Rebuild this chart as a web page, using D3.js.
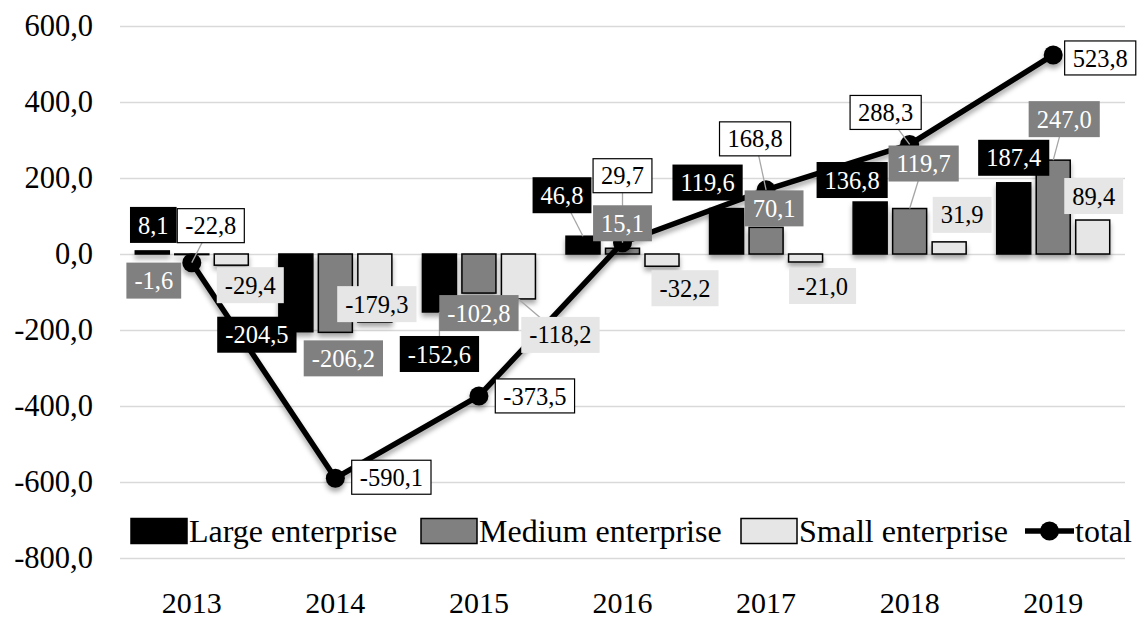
<!DOCTYPE html>
<html>
<head>
<meta charset="utf-8">
<script src="https://cdn.jsdelivr.net/npm/d3@7"></script>
<style>
  html, body { margin: 0; padding: 0; background: #fff; }
  svg { display: block; font-family: "Liberation Serif", "Times New Roman", serif; }
</style>
</head>
<body>
<svg id="chart"></svg>
<script>
const years = ['2013', '2014', '2015', '2016', '2017', '2018', '2019'];
const large = [8.1, -204.5, -152.6, 46.8, 119.6, 136.8, 187.4];
const medium = [-1.6, -206.2, -102.8, 15.1, 70.1, 119.7, 247.0];
const small = [-29.4, -179.3, -118.2, -32.2, -21.0, 31.9, 89.4];
const total = [-22.8, -590.1, -373.5, 29.7, 168.8, 288.3, 523.8];
const yTicks = [-800, -600, -400, -200, 0, 200, 400, 600];
const seriesNames = ['Large enterprise', 'Medium enterprise', 'Small enterprise', 'total'];

// hand-placed label offsets [dx, dy, leader] from each mark's anchor, like the original
const largeLabelPos = [[1, -26, 0], [-39, 3, 0], [0, 42, 1], [-21, -41, 1], [-19, -26, 0], [-18, -22, 0], [0, -25, 0]];
const mediumLabelPos = [[-38, 26, 0], [8, 26, 0], [0, 20, 0], [0, -25, 0], [8, -19, 0], [14, -45, 1], [11, -41, 1]];
const smallLabelPos = [[19, 20, 0], [2, -18, 0], [42, 36, 1], [23, 22, 0], [17, 24, 0], [13, -27, 0], [1, -24, 0]];
const totalLabelPos = [[19, -37, 1], [56, -1, 0], [56, 0, 0], [0, -67, 1], [-11, -51, 1], [-24, -32, 1], [47, 3, 0]];

const width = 1144;
const height = 619;
const plot = { left: 120, right: 1125, top: 26, bottom: 558 };
const serif = '"Liberation Serif", "Times New Roman", serif';

const fmt = d3.formatLocale({
  decimal: ',', thousands: ' ', grouping: [3], currency: ['', ''], minus: '-',
}).format('.1f');

const svg = d3.select('#chart').attr('width', width).attr('height', height);

const defs = svg.append('defs');
const shadow = defs.append('filter')
  .attr('id', 'shadow')
  .attr('x', '-30%').attr('y', '-30%')
  .attr('width', '160%').attr('height', '170%');
shadow.append('feDropShadow')
  .attr('dx', 0).attr('dy', 4)
  .attr('stdDeviation', 2.5)
  .attr('flood-color', '#000')
  .attr('flood-opacity', 0.35);

const x = d3.scaleBand().domain(years).range([plot.left, plot.right]);
const xSub = d3.scaleBand().domain([0, 1, 2]).range([-56.5, 56.5]).paddingInner(0.139);
const y = d3.scaleLinear().domain([-800, 600]).range([plot.bottom, plot.top]);

// y axis with gridlines
const yAxis = svg.append('g')
  .attr('transform', `translate(${plot.left},0)`)
  .call(
    d3.axisLeft(y)
      .tickValues(yTicks)
      .tickSize(-(plot.right - plot.left))
      .tickPadding(27)
      .tickFormat(fmt),
  );
yAxis.select('.domain').remove();
yAxis.selectAll('.tick line').attr('stroke', '#d9d9d9').attr('stroke-width', 1.5);
yAxis.selectAll('.tick text')
  .attr('fill', '#000')
  .style('font-size', '30.5px')
  .style('font-family', serif);

// x axis labels
const xAxis = svg.append('g')
  .attr('transform', `translate(0,${plot.bottom})`)
  .call(d3.axisBottom(x).tickSize(0).tickPadding(34));
xAxis.select('.domain').remove();
xAxis.selectAll('.tick text')
  .attr('fill', '#000')
  .style('font-size', '30px')
  .style('font-family', serif);

const barSeries = [
  { values: large, fill: '#000000', labelFill: '#000000', text: '#ffffff', pos: largeLabelPos },
  { values: medium, fill: '#808080', labelFill: '#808080', text: '#ffffff', pos: mediumLabelPos },
  { values: small, fill: '#e6e6e6', labelFill: '#e6e6e6', text: '#000000', pos: smallLabelPos },
];

// bars
const barsG = svg.append('g').attr('filter', 'url(#shadow)');
barSeries.forEach((s, si) => {
  barsG.selectAll(null)
    .data(s.values)
    .enter()
    .append('rect')
    .attr('x', (v, i) => x(years[i]) + x.bandwidth() / 2 + xSub(si))
    .attr('y', (v) => y(Math.max(0, v)))
    .attr('width', xSub.bandwidth())
    .attr('height', (v) => Math.abs(y(v) - y(0)))
    .attr('fill', s.fill)
    .attr('stroke', '#000')
    .attr('stroke-width', 1.5);
});

// total line
const cx = (i) => x(years[i]) + x.bandwidth() / 2;
const line = d3.line().x((v, i) => cx(i)).y((v) => y(v));
const lineG = svg.append('g').attr('filter', 'url(#shadow)');
lineG.append('path')
  .datum(total)
  .attr('d', line)
  .attr('fill', 'none')
  .attr('stroke', '#000')
  .attr('stroke-width', 5.5)
  .attr('stroke-linejoin', 'round');
lineG.selectAll(null)
  .data(total)
  .enter()
  .append('circle')
  .attr('cx', (v, i) => cx(i))
  .attr('cy', (v) => y(v))
  .attr('r', 9.5)
  .attr('fill', '#000');

// data labels
const labelItems = [];
barSeries.forEach((s, si) => {
  s.values.forEach((v, i) => {
    const ax = cx(i) + xSub(si) + xSub.bandwidth() / 2;
    const ay = y(v);
    labelItems.push({
      value: v, ax, ay, dx: s.pos[i][0], dy: s.pos[i][1], leader: s.pos[i][2],
      fill: s.labelFill, text: s.text, stroke: 'none',
    });
  });
});
total.forEach((v, i) => {
  labelItems.push({
    value: v, ax: cx(i), ay: y(v), dx: totalLabelPos[i][0], dy: totalLabelPos[i][1],
    leader: totalLabelPos[i][2], fill: '#ffffff', text: '#000000', stroke: '#000',
  });
});

const leadersG = svg.append('g');
const labelsG = svg.append('g');
labelItems.forEach((d) => {
  const lx = d.ax + d.dx;
  const ly = d.ay + d.dy;
  if (d.leader) {
    leadersG.append('line')
      .attr('x1', d.ax).attr('y1', d.ay)
      .attr('x2', lx).attr('y2', ly)
      .attr('stroke', '#a6a6a6')
      .attr('stroke-width', 1.3);
  }
  const g = labelsG.append('g').attr('transform', `translate(${lx},${ly})`);
  const rect = g.append('rect');
  const t = g.append('text')
    .attr('text-anchor', 'middle')
    .attr('dy', '0.35em')
    .attr('fill', d.text)
    .style('font-size', '24.5px')
    .text(fmt(d.value));
  const w = t.node().getComputedTextLength() + 16;
  const h = d.stroke === 'none' ? 36 : 34;
  rect.attr('x', -w / 2).attr('y', -h / 2)
    .attr('width', w).attr('height', h)
    .attr('fill', d.fill)
    .attr('stroke', d.stroke)
    .attr('stroke-width', 1.2);
});

// legend
const legendY = 531;
const legendItems = [
  { name: seriesNames[0], x: 131, type: 'rect', fill: '#000000' },
  { name: seriesNames[1], x: 421, type: 'rect', fill: '#808080' },
  { name: seriesNames[2], x: 741, type: 'rect', fill: '#e6e6e6' },
  { name: seriesNames[3], x: 1025, type: 'line' },
];
const legend = svg.append('g');
legendItems.forEach((item) => {
  const g = legend.append('g').attr('transform', `translate(${item.x},${legendY})`);
  if (item.type === 'rect') {
    g.append('rect')
      .attr('x', 0).attr('y', -12.5)
      .attr('width', 56).attr('height', 25)
      .attr('fill', item.fill)
      .attr('stroke', '#000')
      .attr('stroke-width', 1.5);
  } else {
    g.append('line')
      .attr('x1', 0).attr('x2', 49)
      .attr('y1', 0).attr('y2', 0)
      .attr('stroke', '#000')
      .attr('stroke-width', 5.5);
    g.append('circle').attr('cx', 24.5).attr('cy', 0).attr('r', 9.5).attr('fill', '#000');
  }
  g.append('text')
    .attr('x', item.type === 'rect' ? 58 : 50)
    .attr('dy', '0.35em')
    .attr('fill', '#000')
    .style('font-size', '32px')
    .text(item.name);
});
</script>
</body>
</html>
